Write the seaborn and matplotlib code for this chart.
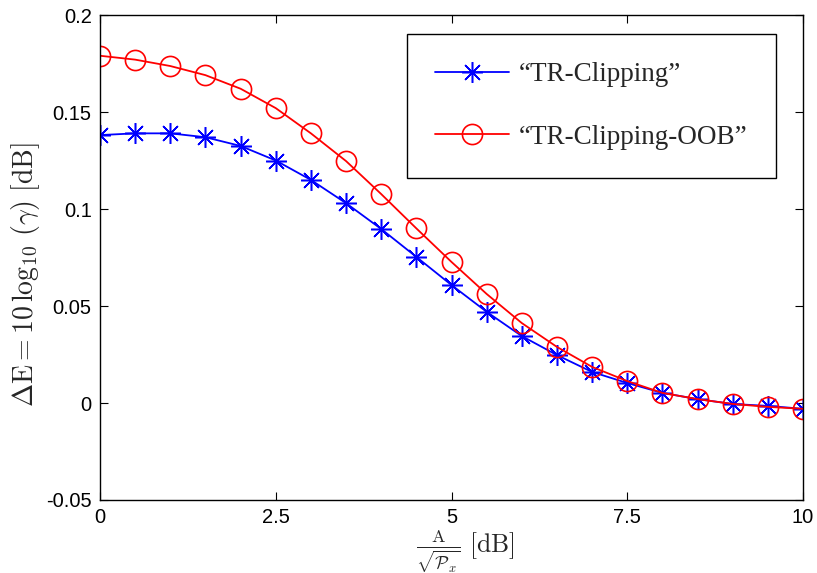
import numpy as np
import pandas as pd
import matplotlib
matplotlib.use("Agg")
import matplotlib.pyplot as plt
import seaborn as sns

# values
x_db = [0, 0.5, 1, 1.5, 2, 2.5, 3, 3.5, 4, 4.5, 5, 5.5, 6, 6.5, 7, 7.5, 8, 8.5, 9, 9.5, 10]
tr_clipping = [0.1381, 0.1390, 0.1390, 0.1370, 0.1325, 0.1250, 0.1150, 0.1030, 0.0897,
               0.0753, 0.0608, 0.0470, 0.0345, 0.0247, 0.0160, 0.0103, 0.0052, 0.0020,
               -0.0005, -0.0015, -0.0030]
tr_clipping_oob = [0.1790, 0.1770, 0.1737, 0.1690, 0.1620, 0.1520, 0.1390, 0.1247, 0.1077,
                   0.0900, 0.0727, 0.0562, 0.0412, 0.0289, 0.0186, 0.0113, 0.0052, 0.0020,
                   -0.0005, -0.0020, -0.0030]
labels = ["\u201cTR-Clipping\u201d", "\u201cTR-Clipping-OOB\u201d"]
x_ticks = [0, 2.5, 5, 7.5, 10]
x_tick_labels = ["0", "2.5", "5", "7.5", "10"]
y_ticks = [-0.05, 0, 0.05, 0.1, 0.15, 0.2]
y_tick_labels = ["-0.05", "0", "0.05", "0.1", "0.15", "0.2"]

sns.set_style("ticks")
plt.rcParams["font.family"] = ["Liberation Sans", "DejaVu Sans"]
plt.rcParams["mathtext.fontset"] = "cm"
plt.rcParams["axes.unicode_minus"] = False

df = pd.DataFrame({"x": x_db, "a": tr_clipping, "b": tr_clipping_oob})

fig = plt.figure(figsize=(8.17, 5.73), dpi=100)
ax = fig.add_axes([0.1224, 0.1274, 0.8605, 0.8464])

sns.lineplot(data=df, x="x", y="a", ax=ax, color="#0000ff", lw=1.3,
             marker=(8, 2, 0), markersize=15, markeredgewidth=1.1,
             markeredgecolor="#0000ff", label=labels[0])
sns.lineplot(data=df, x="x", y="b", ax=ax, color="#ff0000", lw=1.3,
             marker="o", markersize=14.5, markerfacecolor="none",
             markeredgewidth=1.2, markeredgecolor="#ff0000", label=labels[1])

ax.set_xlim(0, 10)
ax.set_ylim(-0.05, 0.2)
ax.set_xticks(x_ticks)
ax.set_xticklabels(x_tick_labels)
ax.set_yticks(y_ticks)
ax.set_yticklabels(y_tick_labels)
ax.tick_params(direction="in", length=6, width=0.8, labelsize=14.5, colors="black",
               top=True, right=True, pad=6)
for s in ax.spines.values():
    s.set_visible(True)
    s.set_linewidth(1.0)
    s.set_color("black")

ax.set_xlabel(r"$\frac{\mathrm{A}}{\sqrt{\mathcal{P}_x}}\ [\mathrm{dB}]$", fontsize=18.5)
ax.xaxis.set_label_coords(0.52, -0.056, transform=ax.transAxes)
ax.xaxis.label.set_va("top")
ax.set_ylabel(r"$\Delta\mathrm{E} = 10\,\log_{10}\,(\gamma)\ [\mathrm{dB}]$", fontsize=20)
ax.yaxis.set_label_coords(-0.0825, 0.464, transform=ax.transAxes)

leg = ax.legend(loc="upper right", bbox_to_anchor=(0.9616, 0.9608), borderaxespad=0,
                frameon=True, fancybox=False, edgecolor="black", framealpha=1,
                prop={"family": "Liberation Serif", "size": 19.5},
                handlelength=2.75, handletextpad=0.35, borderpad=1.05, labelspacing=1.38)
leg.get_frame().set_linewidth(1.0)

fig.savefig("out.png", dpi=100)
